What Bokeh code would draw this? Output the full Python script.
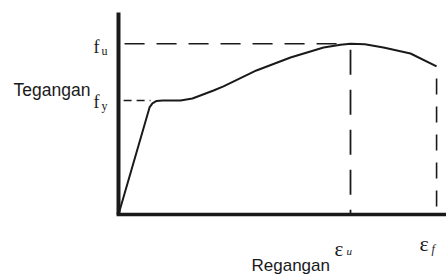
from bokeh.plotting import figure
from bokeh.models import Label, Range1d
from bokeh.embed import file_html
from bokeh.resources import INLINE

# --- data (arbitrary units) ---
strain = [0, 9.7, 10.6, 11.9, 13.75, 19.4, 23.1, 29.7, 32.8, 43.1, 53.75, 64.1, 69.4, 72.5, 77.0, 82.8, 91.25, 99.4]
stress = [0, 53.0, 55.0, 56.2, 56.4, 56.4, 57.4, 61.4, 63.4, 71.3, 77.7, 82.7, 84.0, 84.5, 84.3, 82.7, 79.7, 73.3]
fy = 56.4
fu = 84.5
eps_u = 72.5
eps_f = 99.4
x_max = 102.5
y_max = 100
y_label = "Tegangan"
x_label = "Regangan"

INK = "#1a1a1a"

# frame fills the whole canvas; axes are drawn as lines
p = figure(width=446, height=278, output_backend="svg", toolbar_location=None,
           x_range=Range1d(-36.875, 102.5), y_range=Range1d(-31.68, 105.94),
           min_border=0)
p.axis.visible = False
p.grid.visible = False
p.outline_line_color = None
p.background_fill_color = "white"
p.border_fill_color = "white"

# axes
p.line([0, 0], [0, y_max], line_color=INK, line_width=4)
p.line([-0.6, x_max], [0, 0], line_color=INK, line_width=3.5)

# stress-strain curve
p.line(strain, stress, line_color=INK, line_width=2)

# guide lines
p.line([1.9, eps_u], [fu, fu], line_color=INK, line_width=1.6, line_dash="20 12")
p.line([1.6, 10.0], [fy, fy], line_color=INK, line_width=1.6, line_dash="8 5")
p.line([eps_u, eps_u], [fu, 0], line_color=INK, line_width=1.8, line_dash="25 15", line_dash_offset=34)
p.line([eps_f, eps_f], [stress[-1], 0], line_color=INK, line_width=1.6, line_dash="16 12", line_dash_offset=16)

serif = "Liberation Serif"
sans = "Liberation Sans"

def lab(x, y, text, xo, yo, size, font, style="normal"):
    p.add_layout(Label(x=x, y=y, text=text, x_offset=xo, y_offset=yo,
                       text_font=font, text_font_size=f"{size}px", text_font_style=style,
                       text_color=INK, text_align="left", text_baseline="alphabetic"))

# y-side labels
lab(0, fu, "f", -25, -3, 18, serif)
lab(0, fu, "u", -17, -7, 12, serif)
lab(0, fy, "f", -25, -1, 18, serif)
lab(0, fy, "y", -17, -5, 12, serif)

# x-side labels
lab(eps_u, 0, "ε", -16, -34, 21, serif)
lab(eps_u, 0, "u", -4, -36, 11, serif, "italic")
lab(eps_f, 0, "ε", -17, -29, 22, serif)
lab(eps_f, 0, "f", -5, -34, 12, serif, "italic")

# axis titles
lab(0, 0, y_label, -105, 125, 17.5, sans)
lab(0, 0, x_label, 133, -51, 17, sans)

open("out.html", "w").write(file_html(p, INLINE))
